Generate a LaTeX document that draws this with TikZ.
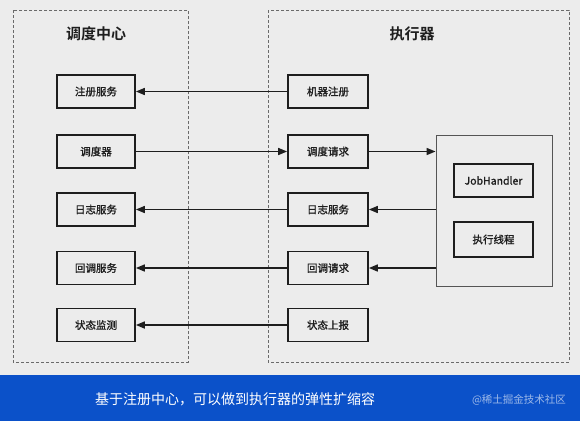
\documentclass[tikz,border=0pt]{standalone}
\usepackage{fontspec}
\setmainfont{Noto Sans CJK SC}
\newfontfamily\cjkbold{Noto Sans CJK SC Bold}
\newfontfamily\cjkmed[FakeBold=1.3]{Noto Sans CJK SC}
\usetikzlibrary{arrows.meta}
\definecolor{bgcol}{HTML}{ECECEC}
\definecolor{barblue}{HTML}{0B51C9}
\definecolor{ink}{HTML}{1E1E1E}
\definecolor{dashgray}{HTML}{6A6A6A}
\begin{document}
\begin{tikzpicture}[x=1pt,y=-1pt,
  box/.style={draw=ink, line width=1.7pt, fill=bgcol, inner sep=0pt,
    minimum width=78pt, minimum height=33pt, font=\cjkmed\fontsize{10.5}{12}\selectfont, text=ink},
  group/.style={draw=dashgray, line width=0.9pt, dash pattern=on 3pt off 2pt},
  title/.style={font=\cjkbold\fontsize{15}{18}\selectfont, text=ink},
  conn/.style={draw=ink, line width=1.6pt, -{Triangle[length=9pt,width=7pt]}}]
\useasboundingbox (0,0) rectangle (580,421);
\fill[bgcol] (0,0) rectangle (580,375);
\fill[barblue] (0,375) rectangle (580,421);
% dashed groups
\draw[group] (13,10) rectangle (188,362);
\draw[group] (268,10) rectangle (569,362);
\node[title] (t1) at (96,34) {调度中心};
\node[title] (t2) at (412,34) {执行器};
% left column
\node[box] (zc) at (96,91.5) {注册服务};
\node[box] (dd) at (96,151.5) {调度器};
\node[box] (rz) at (96,209.5) {日志服务};
\node[box] (hd) at (96,268) {回调服务};
\node[box] (zt) at (96,325) {状态监测};
% right column
\node[box, minimum width=80pt] (jq) at (328,91.5) {机器注册};
\node[box, minimum width=80pt] (dq) at (328,151.5) {调度请求};
\node[box, minimum width=80pt] (rz2) at (328,209.5) {日志服务};
\node[box, minimum width=80pt] (hq) at (328,268) {回调请求};
\node[box, minimum width=80pt] (zs) at (328,325) {状态上报};
% executor block
\node[draw=dashgray!80!black, line width=0.9pt, minimum width=116pt, minimum height=151pt, inner sep=0pt] (big) at (494,210.5) {};
\node[box, minimum width=79pt] (jh) at (493.5,180.5) {JobHandler};
\node[box, minimum width=79pt, minimum height=35pt] (xc) at (493.5,239.5) {执行线程};
% connectors
\draw[conn] (jq.west) -- (zc.east);
\draw[conn] (dd.east) -- (dq.west);
\draw[conn] (dq.east) -- (big.west |- dq.east);
\draw[conn] (big.west |- rz2.east) -- (rz2.east);
\draw[conn] (big.west |- hq.east) -- (hq.east);
\draw[conn] (rz2.west) -- (rz.east);
\draw[conn] (hq.west) -- (hd.east);
\draw[conn] (zs.west) -- (zt.east);
% bottom bar
\node[text=white, font=\fontsize{14}{17}\selectfont] (cap) at (235,399) {基于注册中心，可以做到执行器的弹性扩缩容};
\node[text=white!60!barblue, font=\fontsize{10.5}{12}\selectfont] (wm) at (519,400) {@稀土掘金技术社区};
\end{tikzpicture}
\end{document}
